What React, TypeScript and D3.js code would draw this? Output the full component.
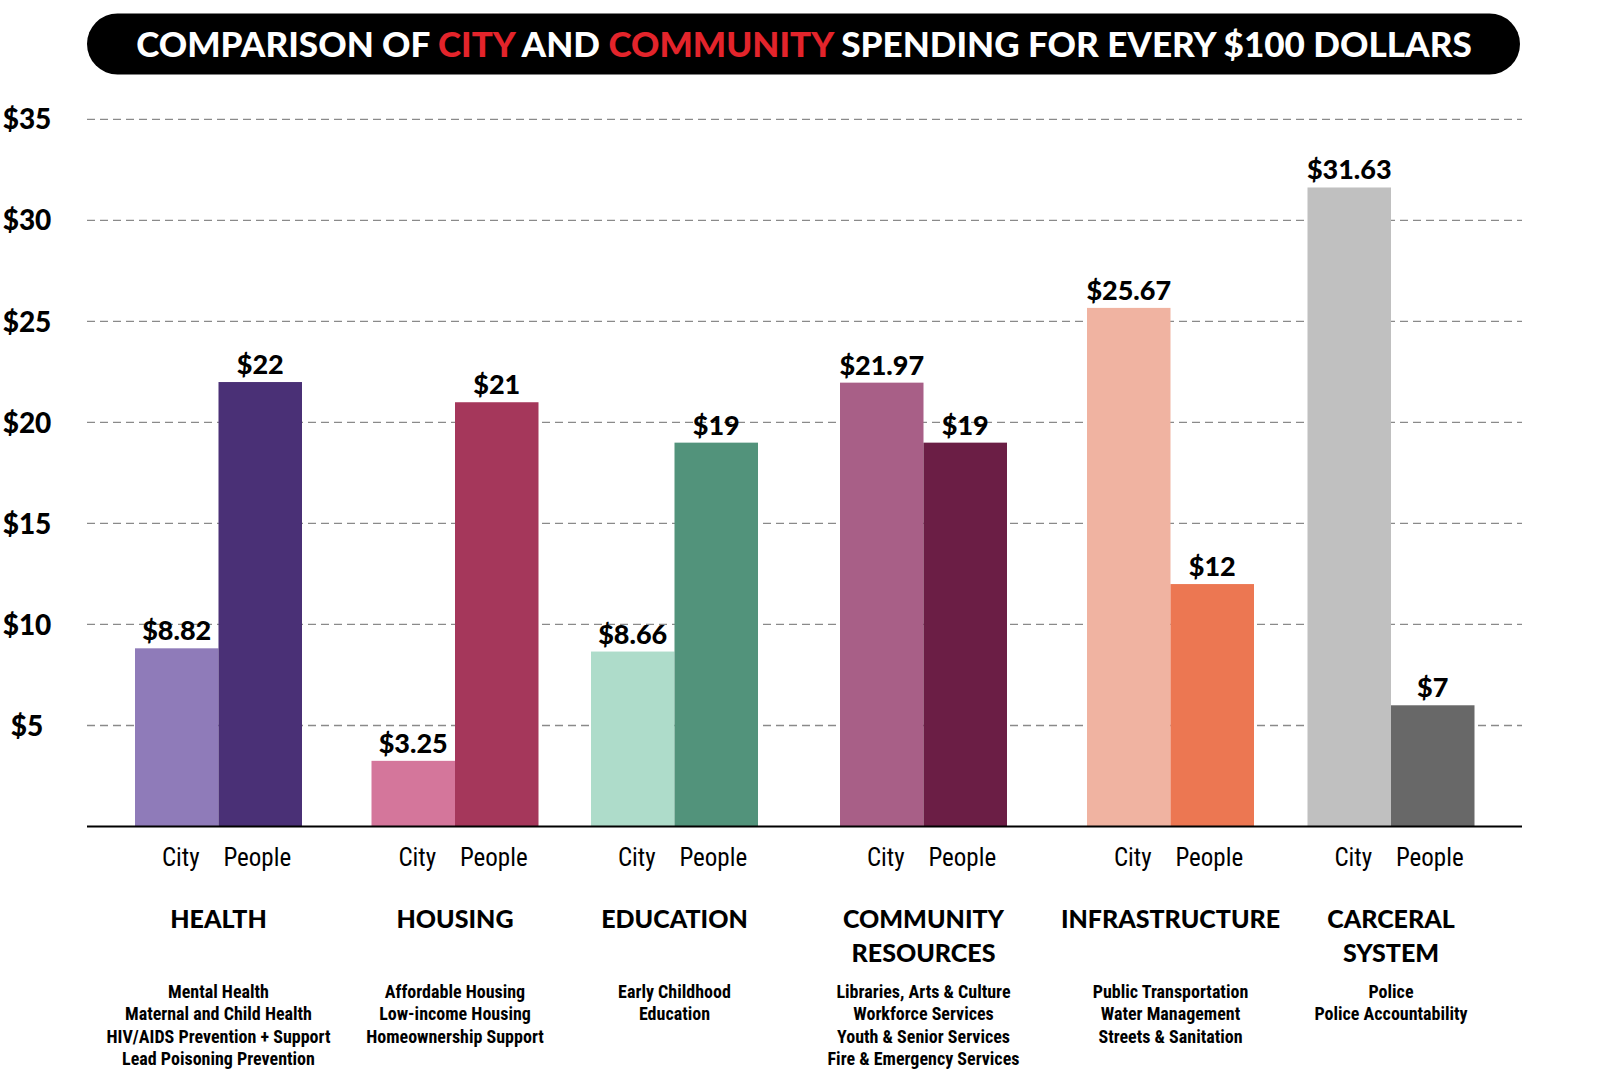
import React, { useLayoutEffect, useRef, useState } from "react";
import * as d3 from "d3";

const categories = ["Health", "Housing", "Education", "Community Resources", "Infrastructure", "Carceral System"];
const categoryTitles = [["HEALTH"], ["HOUSING"], ["EDUCATION"], ["COMMUNITY", "RESOURCES"], ["INFRASTRUCTURE"], ["CARCERAL", "SYSTEM"]];
const categoryDetails = [
  ["Mental Health", "Maternal and Child Health", "HIV/AIDS Prevention + Support", "Lead Poisoning Prevention"],
  ["Affordable Housing", "Low-income Housing", "Homeownership Support"],
  ["Early Childhood", "Education"],
  ["Libraries, Arts & Culture", "Workforce Services", "Youth & Senior Services", "Fire & Emergency Services"],
  ["Public Transportation", "Water Management", "Streets & Sanitation"],
  ["Police", "Police Accountability"],
];
const cityValues = [8.82, 3.25, 8.66, 21.97, 25.67, 31.63];
const cityLabels = ["$8.82", "$3.25", "$8.66", "$21.97", "$25.67", "$31.63"];
const peopleValues = [22, 21, 19, 19, 12, 6];
const peopleLabels = ["$22", "$21", "$19", "$19", "$12", "$7"];
const cityColors = ["#8f7bb9", "#d4769b", "#aedcca", "#a85f87", "#f0b3a1", "#c0c0c0"];
const peopleColors = ["#4a3076", "#a5375b", "#52937b", "#6b1e45", "#ec7752", "#686868"];
const yTicks = [5, 10, 15, 20, 25, 30, 35];

// layout
const W = 1600, H = 1077;
const groupCenters = [218.5, 455, 674.5, 923.5, 1170.5, 1391];
const barW = 83.5;
const plotLeft = 87, plotRight = 1522;
const baseY = 826.5, topY = 119.4;
const titleTarget = 1336;

const heavy = "Lato, Roboto, 'DejaVu Sans', sans-serif";
const narrow = "'Liberation Sans Narrow', 'Roboto Condensed', 'DejaVu Sans Condensed', Roboto, sans-serif";

export default function App() {
  const y = d3.scaleLinear().domain([0, 35]).range([baseY, topY]);
  const x = d3.scaleOrdinal<string, number>().domain(categories).range(groupCenters);
  const titleRef = useRef<SVGTextElement>(null);
  const [titleSize, setTitleSize] = useState(37);

  useLayoutEffect(() => {
    const el = titleRef.current;
    if (!el) return;
    const w = el.getComputedTextLength();
    if (w > 0) {
      const next = +(titleSize * titleTarget / w).toFixed(2);
      if (Math.abs(next - titleSize) > 0.1) setTitleSize(next);
    }
  }, [titleSize]);

  return (
    <svg width={W} height={H} style={{ position: "absolute", left: 0, top: 0, background: "#fff" }}>
      {/* title */}
      <rect x={87} y={13.5} width={1433} height={61} rx={30.5} fill="#000" />
      <text ref={titleRef} x={804} y={57} textAnchor="middle" fill="#fff" fontFamily={heavy} fontWeight={900} fontSize={titleSize}>
        COMPARISON OF <tspan fill="#e3242b">CITY</tspan> AND <tspan fill="#e3242b">COMMUNITY</tspan> SPENDING FOR EVERY $100 DOLLARS
      </text>

      {/* grid */}
      {yTicks.map((t) => (
        <g key={t}>
          <line x1={plotLeft} x2={plotRight} y1={y(t)} y2={y(t)} stroke="#8a8a8a" strokeWidth={1.3} strokeDasharray="8 5" />
          <text x={27} y={y(t)} dy="0.36em" textAnchor="middle" fontFamily={heavy} fontWeight={900} fontSize={28} fill="#000">
            ${t}
          </text>
        </g>
      ))}

      {/* bars */}
      {categories.map((c, i) => {
        const cx = x(c);
        return (
          <g key={c}>
            <rect x={cx - barW} y={y(cityValues[i])} width={barW} height={baseY - y(cityValues[i])} fill={cityColors[i]} />
            <rect x={cx} y={y(peopleValues[i])} width={barW} height={baseY - y(peopleValues[i])} fill={peopleColors[i]} />
            <text x={cx - barW / 2} y={y(cityValues[i]) - 8} textAnchor="middle" fontFamily={heavy} fontWeight={900} fontSize={27} fill="#000">
              {cityLabels[i]}
            </text>
            <text x={cx + barW / 2} y={y(peopleValues[i]) - 8} textAnchor="middle" fontFamily={heavy} fontWeight={900} fontSize={27} fill="#000">
              {peopleLabels[i]}
            </text>
            <text x={cx - barW / 2 + 4} y={866} textAnchor="middle" fontFamily={narrow} fontSize={25} fill="#000">City</text>
            <text x={cx + barW / 2 - 3} y={866} textAnchor="middle" fontFamily={narrow} fontSize={25} fill="#000">People</text>
            {categoryTitles[i].map((t, j) => (
              <text key={t} x={cx} y={928 + j * 34} textAnchor="middle" fontFamily={heavy} fontWeight={900} fontSize={25} fill="#000">
                {t}
              </text>
            ))}
            {categoryDetails[i].map((t, j) => (
              <text key={t} x={cx} y={998 + j * 22.4} textAnchor="middle" fontFamily={narrow} fontWeight={700} fontSize={18} fill="#000">
                {t}
              </text>
            ))}
          </g>
        );
      })}

      {/* baseline */}
      <line x1={plotLeft} x2={plotRight} y1={baseY} y2={baseY} stroke="#000" strokeWidth={2} />
    </svg>
  );
}
